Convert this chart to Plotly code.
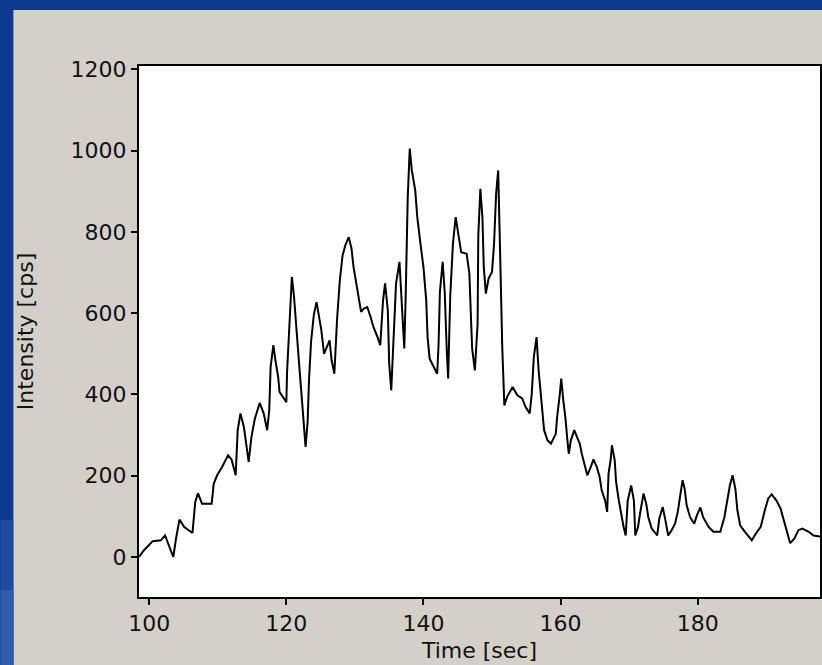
import plotly.graph_objects as go

time_sec = [98.5, 99.2, 100.5, 101.7, 102.3, 102.9, 103.5, 103.9, 104.4, 105.1, 105.8, 106.3, 106.7, 107.1, 107.7,
            109.1, 109.4, 109.9, 110.6, 111.5, 112.0, 112.6, 112.9, 113.3, 113.8, 114.3, 114.5, 114.9, 115.4, 116.1,
            116.7, 117.2, 117.5, 117.7, 118.1, 118.4, 118.8, 119.0, 119.5, 120.0, 120.1, 120.5, 120.8, 121.1, 121.5,
            121.8, 122.2, 122.6, 122.8, 123.1, 123.3, 123.6, 124.0, 124.4, 124.7, 125.1, 125.5, 126.0, 126.3, 126.6,
            127.0, 127.4, 127.8, 128.2, 128.6, 129.1, 129.5, 129.8, 130.2, 130.5, 130.9, 131.3, 131.8, 132.3, 132.7,
            133.3, 133.7, 134.1, 134.4, 134.8, 135.0, 135.3, 135.7, 136.0, 136.5, 136.9, 137.2, 137.4, 137.7, 138.0,
            138.3, 138.8, 139.1, 139.5, 140.0, 140.4, 140.6, 140.9, 141.4, 142.0, 142.2, 142.4, 142.8, 143.1, 143.4,
            143.6, 143.9, 144.3, 144.7, 145.1, 145.5, 146.3, 146.7, 146.9, 147.1, 147.5, 147.9, 148.0, 148.3, 148.6,
            148.8, 149.1, 149.5, 150.0, 150.3, 150.6, 150.9, 151.1, 151.5, 151.8, 152.2, 153.0, 153.7, 154.4, 154.9,
            155.5, 155.8, 156.1, 156.5, 156.8, 157.2, 157.6, 158.1, 158.6, 159.3, 159.5, 159.9, 160.1, 160.4, 160.7,
            161.0, 161.2, 161.5, 162.0, 162.4, 162.8, 163.1, 163.5, 163.9, 164.4, 164.8, 165.3, 165.7, 166.0, 166.5,
            166.8, 167.0, 167.3, 167.5, 167.9, 168.1, 168.5, 168.8, 169.2, 169.5, 169.8, 170.3, 170.7, 170.9, 171.3,
            171.6, 172.1, 172.5, 172.8, 173.3, 174.1, 174.4, 174.9, 175.3, 175.7, 176.2, 176.7, 177.1, 177.5, 177.8,
            178.1, 178.4, 178.9, 179.5, 179.9, 180.4, 180.8, 181.6, 182.3, 183.3, 183.9, 184.4, 184.7, 185.1, 185.5,
            185.8, 186.2, 186.9, 187.9, 188.5, 189.2, 189.8, 190.3, 190.8, 191.5, 192.1, 192.6, 193.0, 193.5, 194.1,
            194.7, 195.3, 196.2, 196.9, 197.6, 198.0]

intensity_cps = [0, 16, 39, 41, 53, 25, 0, 45, 92, 74, 66, 59, 135, 157, 131,
                 131, 180, 201, 221, 250, 240, 201, 312, 353, 320, 250, 234, 295, 340, 379,
                 353, 312, 361, 467, 521, 484, 443, 406, 394, 381, 455, 607, 689, 644, 566,
                 488, 402, 324, 271, 332, 435, 529, 595, 627, 599, 558, 500, 521, 533, 484,
                 451, 586, 681, 742, 767, 787, 759, 713, 673, 640, 603, 611, 615, 590, 566,
                 541, 521, 631, 673, 607, 476, 410, 566, 673, 726, 590, 513, 636, 882, 1005,
                 951, 902, 836, 779, 713, 632, 541, 488, 472, 451, 521, 652, 726, 652, 508,
                 439, 640, 771, 836, 787, 750, 746, 697, 603, 513, 459, 574, 791, 906, 836,
                 713, 648, 685, 701, 771, 894, 951, 808, 513, 373, 394, 418, 398, 390, 369,
                 353, 402, 492, 541, 459, 377, 312, 287, 279, 303, 344, 402, 439, 385, 344,
                 287, 254, 287, 312, 295, 279, 254, 230, 201, 221, 240, 221, 197, 164, 139,
                 111, 205, 238, 275, 238, 185, 139, 107, 74, 53, 139, 176, 139, 53, 74,
                 107, 156, 131, 98, 70, 53, 94, 123, 90, 53, 66, 82, 111, 160, 189,
                 168, 127, 98, 82, 103, 122, 98, 74, 62, 62, 98, 144, 176, 201, 168,
                 115, 78, 62, 41, 58, 74, 115, 144, 154, 139, 119, 90, 66, 34, 45,
                 66, 70, 62, 53, 51, 50]

x_ticks = [100, 120, 140, 160, 180]
y_ticks = [0, 200, 400, 600, 800, 1000, 1200]

W, H = 822, 665
L, R, T, B = 139, 0, 66, 68
pw, ph = W - L - R, H - T - B

def px(xpix):
    return (xpix - L) / pw

def py(ypix):
    return (H - B - ypix) / ph

BLUE = "#0b3a8e"
GREY = "#d4d0c8"

fig = go.Figure()
fig.add_trace(go.Scatter(x=time_sec, y=intensity_cps, mode="lines",
                         line=dict(color="black", width=2), showlegend=False,
                         hoverinfo="skip"))

shapes = [
    dict(type="rect", xref="paper", yref="paper", x0=px(-5), x1=px(W + 5), y0=py(10), y1=py(-5),
         fillcolor=BLUE, line_width=0, layer="below"),
    dict(type="rect", xref="paper", yref="paper", x0=px(-5), x1=px(13), y0=py(H + 5), y1=py(-5),
         fillcolor=BLUE, line_width=0, layer="below"),
    dict(type="rect", xref="paper", yref="paper", x0=px(0), x1=px(13), y0=py(H + 5), y1=py(520),
         fillcolor="#1c4a9c", line_width=0, layer="below"),
    dict(type="rect", xref="paper", yref="paper", x0=px(0), x1=px(13), y0=py(H + 5), y1=py(590),
         fillcolor="#2d5cab", line_width=0, layer="below"),
]

fig.update_layout(
    width=W, height=H,
    margin=dict(l=L, r=R, t=T, b=B),
    paper_bgcolor=GREY,
    plot_bgcolor="white",
    font=dict(family="DejaVu Sans, Verdana, sans-serif", size=22, color="#111111"),
    shapes=shapes,
    xaxis=dict(range=[98.5, 197.85], tickvals=x_ticks, ticks="outside", ticklen=6, tickwidth=2,
               tickcolor="black", showline=True, linecolor="black", linewidth=2, mirror=True,
               showgrid=False, zeroline=False,
               title=dict(text="Time [sec]", standoff=7, font=dict(size=22))),
    yaxis=dict(range=[-98.4, 1208], tickvals=y_ticks, ticks="outside", ticklen=6, tickwidth=2,
               tickcolor="black", showline=True, linecolor="black", linewidth=2, mirror=True,
               showgrid=False, zeroline=False,
               title=dict(text="Intensity [cps]", standoff=31, font=dict(size=22))),
)

fig.write_html("out.html")
